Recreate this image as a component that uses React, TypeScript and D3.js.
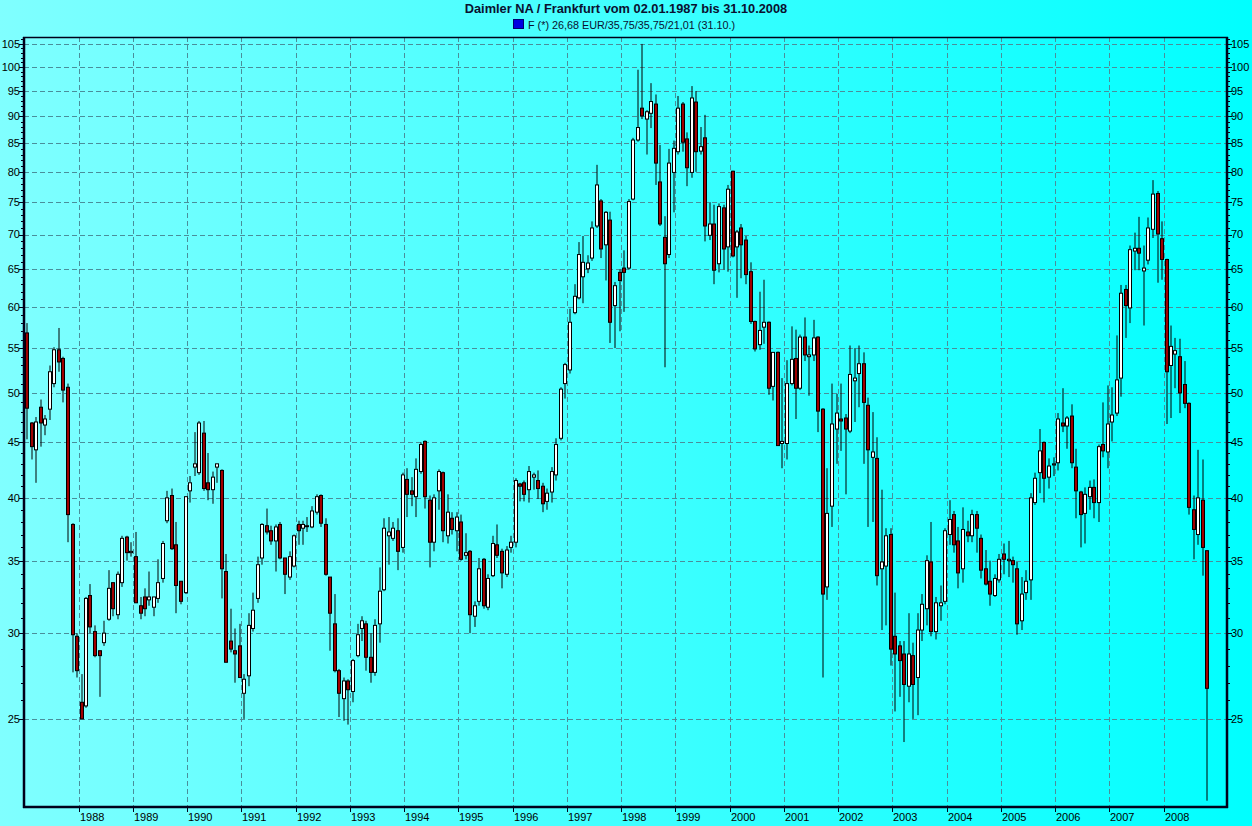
import React from "react";
import * as d3 from "d3";

// Monthly candles, Jan 1987 .. Oct 2008
const START_YEAR = 1987;

const OPEN = [
  56.8, 46.9, 44.3, 48.5, 46.7, 48.3, 51.0, 54.8, 53.8, 50.6, 37.8, 29.8,
  25.9, 25.7, 32.5, 30.1, 28.9, 29.4, 30.9, 33.4, 31.2, 33.4, 36.8, 35.6,
  35.3, 31.8, 32.4, 32.2, 31.7, 32.3, 33.7, 38.1, 40.2, 36.2, 33.5, 32.7,
  40.6, 42.7, 42.2, 45.9, 41.3, 40.7, 42.7, 42.4, 34.2, 29.5, 28.9, 29.2,
  26.4, 27.4, 30.3, 32.3, 35.2, 37.7, 37.3, 36.5, 37.8, 35.2, 33.8, 34.6,
  37.8, 37.5, 37.7, 37.6, 38.8, 40.2, 37.8, 33.8, 30.6, 27.7, 26.1, 27.1,
  26.5, 28.6, 30.3, 30.6, 28.5, 27.6, 30.6, 32.9, 36.9, 36.7, 37.3, 36.0,
  41.6, 40.6, 40.1, 42.3, 45.1, 39.8, 36.4, 40.6, 42.2, 36.9, 38.3, 37.3,
  38.0, 35.4, 35.7, 31.1, 32.1, 35.1, 31.7, 33.9, 36.2, 35.7, 34.0, 36.0,
  36.4, 41.2, 41.3, 40.7, 41.8, 41.5, 41.0, 39.7, 40.5, 42.0, 45.4, 51.0,
  52.5, 59.3, 61.2, 64.0, 65.1, 66.6, 71.3, 75.2, 68.5, 72.2, 60.2, 64.6,
  65.2, 65.2, 75.5, 85.6, 91.6, 89.5, 90.6, 92.4, 78.3, 69.6, 67.1, 79.9,
  83.5, 92.4, 85.8, 79.9, 92.8, 83.6, 86.0, 69.9, 71.6, 65.8, 74.1, 68.2,
  80.1, 68.2, 71.0, 69.2, 64.7, 58.2, 55.4, 57.5, 58.1, 50.7, 54.5, 44.9,
  44.9, 51.0, 53.8, 50.5, 56.3, 54.0, 54.2, 56.3, 48.3, 33.1, 39.3, 46.3,
  47.3, 47.4, 46.1, 51.3, 52.1, 53.2, 48.7, 43.6, 43.5, 34.4, 34.6, 37.0,
  29.8, 29.2, 28.7, 26.8, 28.6, 27.3, 30.2, 31.6, 34.9, 30.1, 31.8, 32.1,
  37.0, 38.6, 36.5, 34.4, 37.2, 36.9, 38.6, 36.7, 34.4, 33.5, 32.5, 33.6,
  35.5, 35.0, 35.0, 34.4, 30.8, 32.7, 33.6, 39.6, 42.2, 45.0, 41.8, 42.9,
  43.1, 46.9, 46.6, 47.6, 42.7, 40.5, 38.7, 40.1, 40.9, 39.6, 44.8, 44.1,
  47.0, 47.9, 51.6, 62.3, 59.9, 67.6, 68.0, 64.8, 66.3, 70.8, 76.4, 69.4,
  66.4, 53.0, 54.3, 54.0, 50.9, 48.9, 39.0, 37.0, 39.8, 35.75,
];

const HIGH = [
  58.0, 47.0, 47.5, 49.3, 47.7, 53.0, 55.1, 57.4, 54.0, 51.0, 37.9, 30.0,
  27.5, 32.4, 33.3, 30.5, 28.9, 30.8, 34.3, 33.4, 34.2, 36.9, 36.9, 36.4,
  37.2, 32.4, 33.0, 34.2, 32.4, 35.1, 36.5, 40.6, 40.8, 38.0, 33.5, 40.1,
  41.9, 46.0, 47.1, 47.1, 44.0, 42.3, 43.0, 42.5, 35.5, 31.6, 30.3, 30.6,
  27.5, 31.3, 32.7, 35.3, 37.9, 39.1, 37.7, 37.8, 38.0, 35.2, 35.7, 37.0,
  38.1, 38.1, 38.4, 39.3, 40.3, 40.3, 38.3, 33.8, 32.6, 27.8, 27.3, 27.2,
  28.4, 30.6, 31.1, 30.8, 30.0, 30.9, 34.5, 38.3, 38.4, 38.0, 38.3, 42.2,
  42.6, 41.8, 43.5, 45.0, 45.2, 40.2, 40.3, 42.5, 42.3, 40.3, 38.8, 38.8,
  38.6, 37.1, 35.8, 32.1, 35.2, 35.2, 34.0, 36.9, 37.8, 35.9, 36.1, 36.9,
  41.7, 41.3, 41.5, 42.8, 42.2, 42.4, 41.3, 40.8, 42.7, 45.4, 50.6, 53.3,
  59.8, 63.0, 68.9, 69.8, 67.0, 72.0, 81.2, 75.5, 73.6, 73.5, 63.3, 65.0,
  67.7, 75.5, 86.0, 99.4, 105.0, 91.2, 96.6, 94.3, 84.7, 72.8, 84.0, 85.5,
  94.0, 92.8, 87.0, 96.0, 95.0, 88.0, 90.3, 75.0, 74.6, 74.8, 74.6, 77.8,
  80.2, 70.7, 71.6, 69.8, 66.0, 58.3, 62.0, 63.6, 58.2, 54.5, 54.6, 51.6,
  53.6, 57.6, 57.2, 56.6, 58.7, 55.3, 58.4, 56.4, 48.4, 42.6, 51.0, 49.9,
  51.0, 47.8, 55.3, 55.0, 55.3, 54.5, 49.5, 48.0, 45.5, 40.7, 37.5, 37.5,
  32.7, 29.5, 29.5, 31.3, 29.4, 31.3, 32.6, 35.4, 38.0, 32.4, 33.2, 37.5,
  39.8, 38.9, 37.6, 39.2, 38.1, 39.0, 38.9, 37.0, 35.8, 35.0, 34.0, 35.5,
  36.3, 36.5, 35.3, 34.9, 33.8, 34.3, 40.4, 42.2, 46.3, 45.1, 43.5, 43.6,
  47.9, 50.5, 47.6, 48.8, 44.4, 40.6, 40.9, 41.5, 41.6, 44.8, 49.0, 50.8,
  50.6, 56.5, 62.9, 62.9, 68.4, 70.3, 72.7, 68.4, 72.6, 78.6, 76.8, 72.0,
  66.5, 57.7, 56.2, 56.1, 53.5, 49.0, 40.2, 44.3, 43.4, 35.75,
];

const LOW = [
  45.3, 43.4, 41.3, 44.6, 45.7, 47.2, 50.6, 52.3, 49.0, 36.4, 27.6, 27.3,
  25.0, 25.6, 30.0, 28.5, 26.2, 29.2, 30.8, 31.1, 30.9, 33.1, 35.0, 35.3,
  32.0, 30.9, 31.1, 31.8, 31.1, 32.0, 33.4, 37.9, 35.8, 31.3, 31.9, 32.6,
  39.6, 41.9, 42.0, 40.6, 39.8, 39.5, 41.3, 32.3, 28.2, 28.8, 27.0, 27.3,
  25.0, 26.8, 30.1, 32.0, 34.7, 37.0, 36.2, 34.2, 35.1, 32.6, 33.6, 34.5,
  36.2, 36.2, 37.2, 37.5, 38.6, 37.6, 33.9, 28.9, 27.6, 25.1, 24.9, 24.7,
  25.9, 28.5, 29.5, 27.7, 27.0, 27.4, 29.4, 32.8, 34.7, 36.5, 34.3, 35.6,
  38.4, 39.3, 38.4, 42.1, 39.1, 34.5, 35.7, 39.0, 36.4, 36.3, 37.0, 35.7,
  35.0, 35.1, 30.0, 30.4, 31.8, 31.6, 31.5, 33.8, 35.2, 33.0, 33.8, 35.6,
  36.0, 39.7, 39.7, 39.6, 40.7, 39.9, 38.8, 39.0, 39.6, 41.5, 45.2, 49.4,
  52.1, 59.1, 61.0, 60.5, 64.5, 66.2, 71.0, 66.6, 63.5, 55.6, 55.0, 57.0,
  59.4, 65.0, 75.3, 85.3, 89.5, 83.0, 87.8, 77.8, 71.3, 52.8, 66.6, 73.4,
  83.0, 83.5, 77.6, 79.0, 80.0, 83.0, 69.0, 69.2, 63.0, 64.6, 65.0, 64.7,
  66.7, 61.2, 63.8, 63.0, 57.9, 54.6, 54.8, 55.5, 49.8, 49.2, 44.7, 42.6,
  43.4, 50.8, 47.3, 50.3, 53.5, 49.7, 53.5, 46.0, 27.3, 32.2, 37.6, 43.0,
  44.2, 40.3, 45.9, 47.0, 48.5, 43.0, 37.6, 38.0, 33.2, 30.2, 30.5, 28.0,
  25.4, 26.2, 23.8, 25.9, 25.0, 25.2, 29.5, 30.5, 29.8, 29.6, 30.8, 31.9,
  36.2, 35.6, 33.0, 33.4, 36.4, 36.4, 35.6, 33.7, 33.2, 31.8, 32.4, 33.4,
  34.0, 33.8, 33.4, 29.9, 30.2, 32.2, 32.2, 39.4, 40.4, 39.6, 40.8, 41.9,
  42.4, 46.0, 44.4, 42.6, 38.3, 36.0, 36.3, 39.0, 38.3, 38.0, 43.6, 42.6,
  45.1, 47.6, 49.6, 56.2, 58.0, 64.9, 64.9, 57.7, 65.7, 69.5, 63.2, 63.6,
  46.8, 47.4, 50.5, 47.9, 48.4, 38.6, 35.1, 36.2, 33.9, 21.01,
];

const CLOSE = [
  48.4, 44.6, 47.0, 46.9, 47.3, 52.3, 54.8, 53.4, 50.3, 38.6, 29.9, 27.7,
  25.0, 32.3, 30.4, 28.6, 28.6, 30.0, 33.0, 31.6, 34.0, 36.7, 35.6, 35.7,
  32.0, 31.3, 31.6, 32.4, 32.4, 33.4, 36.3, 40.0, 35.9, 33.2, 32.1, 40.1,
  41.3, 43.0, 46.9, 40.8, 40.7, 41.8, 43.0, 34.4, 28.2, 29.0, 28.7, 27.3,
  27.2, 30.5, 31.5, 34.7, 37.8, 37.2, 36.5, 37.6, 35.2, 34.0, 35.3, 36.9,
  37.3, 37.8, 37.7, 38.9, 40.1, 37.9, 34.0, 31.3, 27.7, 26.4, 27.1, 26.6,
  28.3, 29.9, 30.8, 28.5, 27.6, 30.5, 32.8, 37.5, 37.2, 37.5, 35.7, 42.0,
  40.3, 40.3, 42.5, 44.8, 40.1, 36.4, 40.0, 42.3, 37.3, 38.8, 37.4, 38.4,
  35.1, 35.6, 31.2, 31.8, 34.4, 31.8, 33.7, 36.3, 35.4, 34.1, 35.8, 36.4,
  41.5, 41.0, 40.3, 42.3, 42.0, 40.8, 39.5, 40.4, 42.3, 44.8, 50.4, 53.1,
  58.1, 61.4, 67.1, 66.0, 65.9, 71.0, 77.8, 67.9, 73.4, 58.1, 62.8, 63.5,
  64.6, 75.1, 85.6, 87.9, 90.1, 90.9, 92.9, 81.5, 71.6, 65.8, 81.5, 84.1,
  91.6, 85.2, 80.7, 93.6, 83.5, 84.4, 71.3, 71.6, 64.9, 74.3, 67.9, 77.1,
  66.9, 70.4, 68.5, 64.3, 58.2, 54.9, 57.1, 58.1, 50.5, 54.5, 44.7, 45.1,
  51.0, 53.7, 50.5, 56.3, 54.2, 54.2, 56.2, 48.1, 32.6, 38.7, 46.8, 47.9,
  47.1, 46.3, 52.0, 51.6, 53.2, 49.0, 44.3, 44.1, 33.9, 34.9, 36.9, 29.0,
  28.7, 28.3, 26.9, 28.7, 26.9, 30.2, 31.9, 35.0, 30.1, 32.0, 32.0, 37.3,
  38.2, 36.2, 34.1, 37.4, 36.9, 38.6, 37.5, 34.3, 33.3, 32.6, 33.7, 35.1,
  35.1, 35.1, 34.7, 30.6, 32.6, 33.5, 40.0, 41.7, 44.2, 41.7, 42.8, 43.0,
  47.3, 46.6, 47.4, 43.1, 40.6, 38.6, 40.3, 40.9, 39.6, 44.6, 44.2, 46.8,
  47.7, 51.4, 61.8, 60.2, 67.8, 68.0, 67.3, 65.2, 71.0, 76.3, 70.1, 66.4,
  52.3, 55.2, 54.7, 50.0, 48.9, 39.2, 37.4, 40.0, 36.0, 26.68,
];

const Y_TICKS = [25, 30, 35, 40, 45, 50, 55, 60, 65, 70, 75, 80, 85, 90, 95, 100, 105];
const YEAR_TICKS = [
  1988, 1989, 1990, 1991, 1992, 1993, 1994, 1995, 1996, 1997, 1998,
  1999, 2000, 2001, 2002, 2003, 2004, 2005, 2006, 2007, 2008,
];

const TITLE = "Daimler NA / Frankfurt vom 02.01.1987 bis 31.10.2008";
const LEGEND = "F (*) 26,68 EUR/35,75/35,75/21,01 (31.10.)";

const W = 1252;
const H = 826;
const L = 24;
const R = 1227;
const T = 37;
const B = 807;
const FONT = "'Liberation Sans', Arial, Helvetica, sans-serif";
const GRID = "#4a8e9a";
const INK = "#00001a";

export default function App() {
  const x = d3
    .scaleTime()
    .domain([new Date(1988, 0, 1), new Date(2008, 0, 1)])
    .range([78.5, 1163.5]);
  const y = d3.scaleLog().domain([20.73, 106.56]).range([B, T]);

  const minorTicks = d3.range(25, 107).filter((v) => v % 5 !== 0);

  const candles = OPEN.map((o, i) => {
    const c = CLOSE[i];
    const hi = Math.max(HIGH[i], o, c);
    const lo = Math.min(LOW[i], o, c);
    const cx = Math.round(x(new Date(START_YEAR, i, 15)));
    const yTop = y(Math.max(o, c));
    const yBot = y(Math.min(o, c));
    return { i, cx, up: c >= o, yHi: y(hi), yLo: y(lo), yTop, h: Math.max(1, yBot - yTop) };
  });

  return (
    <svg
      width={W}
      height={H}
      style={{ position: "absolute", left: 0, top: 0, display: "block" }}
      fontFamily={FONT}
    >
      <defs>
        <linearGradient id="bg" x1="0" y1="0" x2="1" y2="0">
          <stop offset="0%" stopColor="#80ffff" />
          <stop offset="100%" stopColor="#00ffff" />
        </linearGradient>
      </defs>
      <rect x={0} y={0} width={W} height={H} fill="url(#bg)" />

      {/* title + legend */}
      <text x={626} y={13} textAnchor="middle" fontSize={12.8} fontWeight="bold" fill="#0a1030">
        {TITLE}
      </text>
      <rect x={513.5} y={19.5} width={10} height={9} fill="#0000e0" stroke="#000070" strokeWidth={1} />
      <text x={528} y={28.5} fontSize={10.8} fill="#0a1030">
        {LEGEND}
      </text>

      {/* grid */}
      <g stroke={GRID} strokeWidth={1} strokeDasharray="5,3" shapeRendering="crispEdges">
        {Y_TICKS.map((v) => (
          <line key={"h" + v} x1={L} x2={R} y1={Math.round(y(v)) + 0.5} y2={Math.round(y(v)) + 0.5} />
        ))}
        {YEAR_TICKS.map((yr) => {
          const gx = Math.round(x(new Date(yr, 0, 1))) + 0.5;
          return <line key={"v" + yr} x1={gx} x2={gx} y1={T} y2={B} />;
        })}
      </g>

      {/* candles */}
      <g>
        {candles.map((d) => (
          <g key={d.i}>
            <line x1={d.cx + 1} x2={d.cx + 1} y1={d.yHi} y2={d.yLo} stroke="#000" strokeWidth={1} />
            <rect
              x={d.cx - 0.5}
              y={d.yTop}
              width={3}
              height={d.h}
              fill={d.up ? "#ffffff" : "#a00000"}
              stroke="#000"
              strokeWidth={1}
            />
          </g>
        ))}
      </g>

      {/* frame */}
      <g stroke={INK} fill="none">
        <line x1={L - 1} x2={R + 1} y1={T + 0.5} y2={T + 0.5} strokeWidth={1.5} />
        <line x1={L} x2={L} y1={T} y2={B + 1} strokeWidth={2.5} />
        <line x1={R} x2={R} y1={T} y2={B + 1} strokeWidth={2.5} />
        <line x1={L - 1} x2={R + 1} y1={B} y2={B} strokeWidth={2.5} />
      </g>

      {/* y axes */}
      <g stroke={INK} strokeWidth={1} shapeRendering="crispEdges">
        {Y_TICKS.map((v) => {
          const yy = Math.round(y(v)) + 0.5;
          return (
            <g key={"mt" + v}>
              <line x1={L - 5} x2={L} y1={yy} y2={yy} />
              <line x1={R} x2={R + 5} y1={yy} y2={yy} />
            </g>
          );
        })}
        {minorTicks.map((v) => {
          const yy = Math.round(y(v)) + 0.5;
          return (
            <g key={"nt" + v}>
              <line x1={L - 3} x2={L} y1={yy} y2={yy} />
              <line x1={R} x2={R + 3} y1={yy} y2={yy} />
            </g>
          );
        })}
        {YEAR_TICKS.map((yr) => {
          const gx = Math.round(x(new Date(yr, 0, 1))) + 0.5;
          return <line key={"xt" + yr} x1={gx} x2={gx} y1={B} y2={B + 5} />;
        })}
      </g>
      <g fontSize={11} fill="#000">
        {Y_TICKS.map((v) => (
          <text key={"ll" + v} x={20} y={y(v)} dy="0.35em" textAnchor="end">
            {v}
          </text>
        ))}
        {Y_TICKS.map((v) => (
          <text key={"rl" + v} x={1231} y={y(v)} dy="0.35em" textAnchor="start">
            {v}
          </text>
        ))}
        {YEAR_TICKS.map((yr) => (
          <text key={"xl" + yr} x={Math.round(x(new Date(yr, 0, 1))) + 1} y={821} textAnchor="start">
            {yr}
          </text>
        ))}
      </g>
    </svg>
  );
}
